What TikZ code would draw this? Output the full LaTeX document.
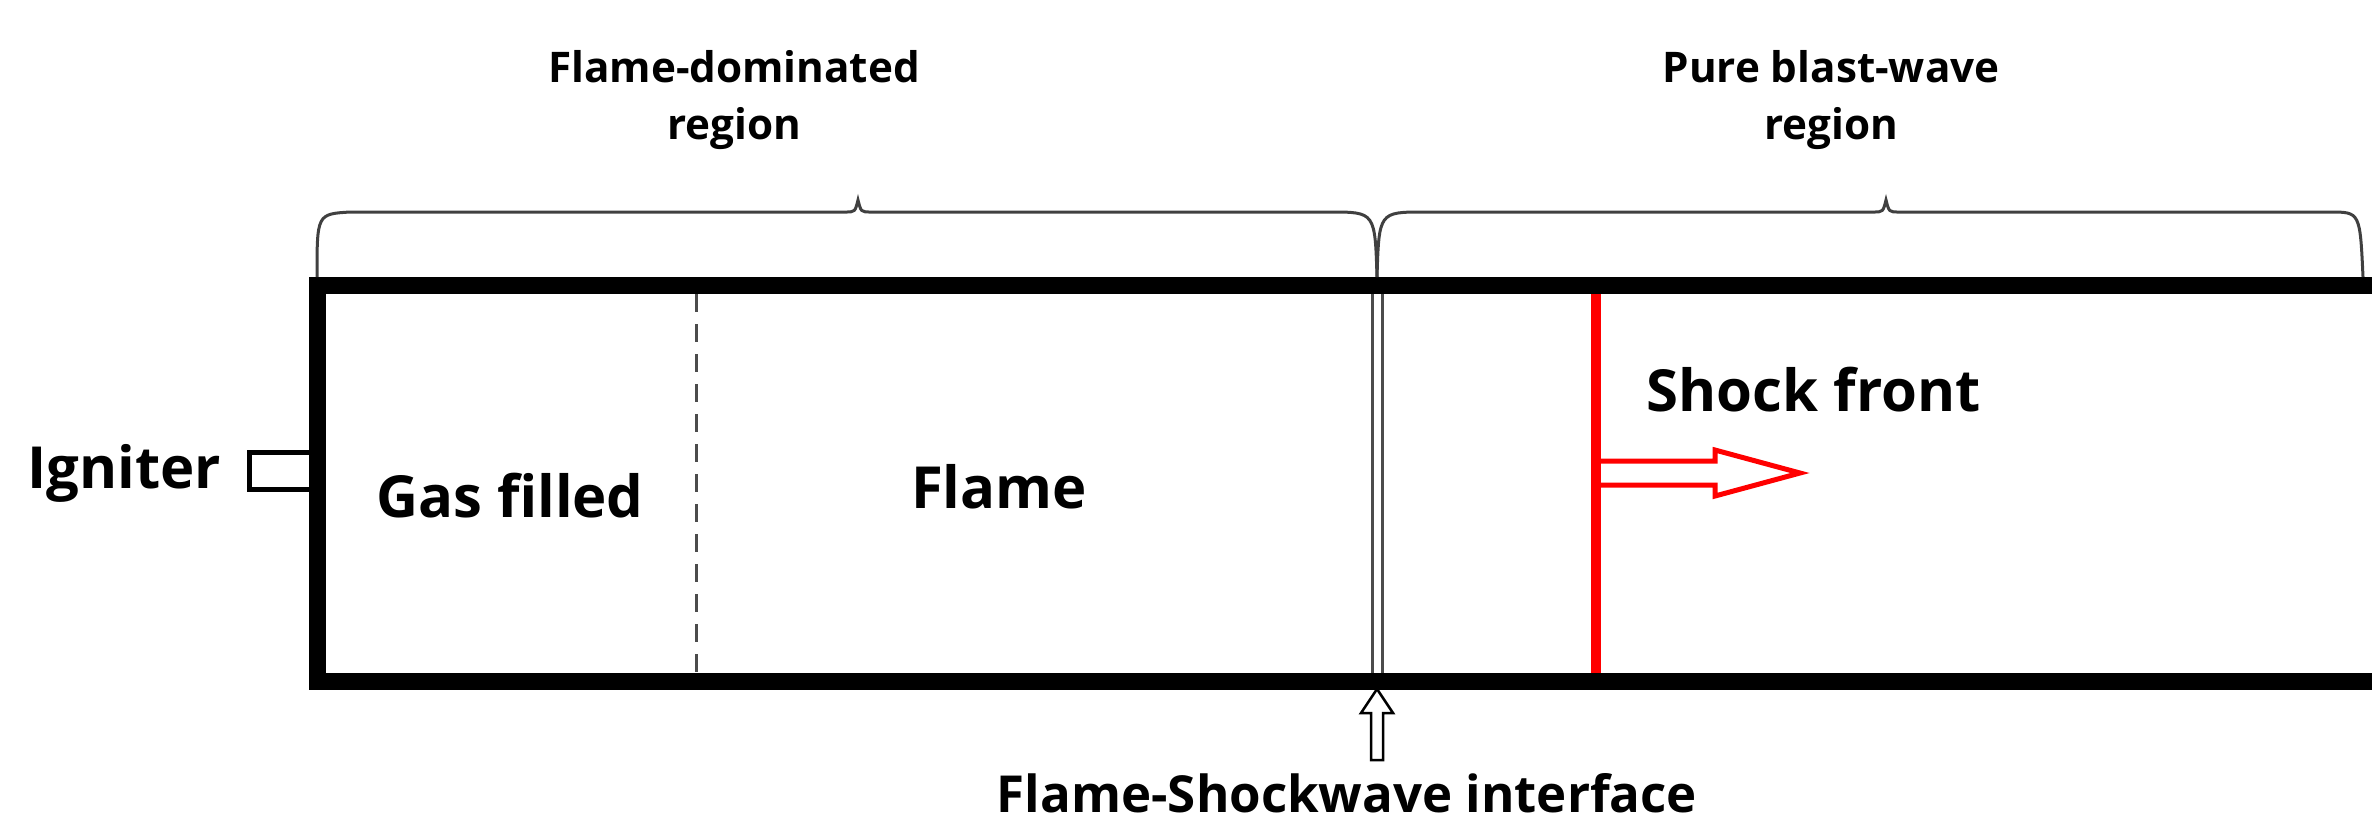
\documentclass[tikz,border=0pt]{standalone}
\usepackage{fontspec}
\setmainfont{Open Sans}
\begin{document}
\begin{tikzpicture}[x=0.01cm,y=-0.01cm,
  lbl/.style={font=\fontsize{16.5}{19}\selectfont\bfseries, inner sep=0pt, align=center},
  hdr/.style={font=\fontsize{12}{14}\selectfont\bfseries, inner sep=0pt, align=center},
  wall/.style={line width=17*0.01cm, line cap=butt},
  brace/.style={line width=3*0.01cm, draw=black!75}]
\useasboundingbox (0,0) rectangle (2372,826);
% tube
\draw[wall] (317,277) -- (317,689);
\draw[wall] (309,285) -- (2372,285);
\draw[wall] (309,681) -- (2372,681);
% igniter
\draw[line width=5*0.01cm] (309,452) -- (249,452) -- (249,489) -- (309,489);
\node[lbl, anchor=east] (ign) at (222,473) {Igniter};
% dashed boundary
\draw[line width=3*0.01cm, dash pattern=on 18*0.01cm off 12*0.01cm, black!70] (696,294) -- (696,673);
\node[lbl] (gas) at (510,496) {Gas filled};
\node[lbl] (flame) at (999,487) {Flame};
% interface
\draw[line width=3*0.01cm, black!70] (1372,294) -- (1372,673) (1382,294) -- (1382,673);
% shock front
\draw[red, line width=10*0.01cm] (1596,294) -- (1596,673);
\draw[red, line width=5*0.01cm] (1600,461) -- (1715,461) -- (1715,450) -- (1800,473) -- (1715,496) -- (1715,485) -- (1600,485);
\node[lbl, anchor=west] (sf) at (1646,390) {Shock front};
% braces
\draw[brace] (317,277) .. controls (317,214) .. (350,212) -- (845,212) .. controls (855,212) .. (858,200) .. controls (861,212) .. (871,212) -- (1330,212) .. controls (1375,212) .. (1377,277);
\draw[brace] (1377,277) .. controls (1379,212) .. (1424,212) -- (1873,212) .. controls (1883,212) .. (1886,200) .. controls (1889,212) .. (1899,212) -- (2330,212) .. controls (2360,212) .. (2363,277);
\node[hdr] (fd) at (734,100) {Flame-dominated\\[2pt]region};
\node[hdr] (pb) at (1831,100) {Pure blast-wave\\[2pt]region};
% interface arrow
\draw[line width=2.5*0.01cm, fill=white] (1377,689) -- (1393,713) -- (1383,713) -- (1383,760) -- (1371,760) -- (1371,713) -- (1361,713) -- cycle;
\node[font=\fontsize{14.5}{17}\selectfont\bfseries, inner sep=0pt] (fsi) at (1347,793) {Flame-Shockwave interface};
\end{tikzpicture}
\end{document}
